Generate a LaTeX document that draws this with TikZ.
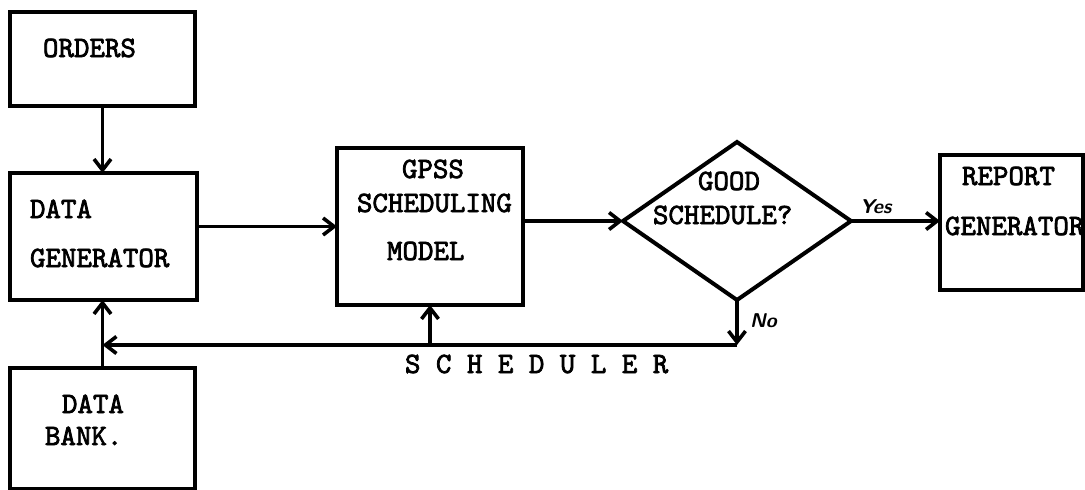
\documentclass[tikz,border=0pt]{standalone}
\usepackage{fontspec}
\setmonofont{lmmono10-regular}[Extension=.otf, FakeBold=2.5]
\usetikzlibrary{arrows.meta,shapes.geometric}

\begin{document}
\begin{tikzpicture}[x=1pt,y=-1pt,
  every node/.style={inner sep=0pt, outer sep=0pt},
  box/.style={draw, line width=4pt, rectangle},
  decision/.style={draw, line width=4pt, diamond},
  lbl/.style={anchor=base west, font=\fontsize{29.5}{29.5}\selectfont\ttfamily},
  hand/.style={anchor=base west, font=\fontsize{20}{20}\selectfont\sffamily\bfseries\itshape},
  flow/.style={line width=3.6pt, -{Straight Barb[length=11pt,width=17pt]}}]
\useasboundingbox (0,0) rectangle (1085,490);

% blocks
\node[box, minimum width=185pt, minimum height=94pt]  (orders)   at (102.5,59)  {};
\node[box, minimum width=187pt, minimum height=127pt] (datagen)  at (103.5,236.5) {};
\node[box, minimum width=185pt, minimum height=121pt] (databank) at (102.5,428) {};
\node[box, minimum width=186pt, minimum height=157pt] (gpss)     at (430,226.5) {};
\node[decision, minimum width=228pt, minimum height=158pt] (good) at (737,221) {};
\node[box, minimum width=143pt, minimum height=135pt] (report)   at (1011.5,222.5) {};

% texts
\node[lbl] (tOrders) at (43,57)   {ORDERS};
\node[lbl] (tData)   at (30,218)  {DATA};
\node[lbl] (tGen)    at (30,267)  {GENERATOR};
\node[lbl] (tBank1)  at (62,413)  {DATA};
\node[lbl] (tBank2)  at (45,445)  {BANK.};
\node[lbl] (tGpss)   at (402,178) {GPSS};
\node[lbl] (tSched)  at (357,212) {SCHEDULING};
\node[lbl] (tModel)  at (387,260) {MODEL};
\node[lbl] (tGood)   at (698,190) {GOOD};
\node[lbl] (tGood2)  at (653,224) {SCHEDULE?};
\node[lbl] (tRep1)   at (962,185) {REPORT};
\node[lbl] (tRep2)   at (945,235) {GENERATOR};
\node[lbl] (tSchr)   at (405,373) {S C H E D U L E R};
\node[hand] (tYes) at (860,213) {Yes};
\node[hand] (tNo)  at (750,327) {No};

% connectors
\coordinate (nocorner) at (good.south |- 0,345);
\draw[flow] (orders.south) -- (orders.south |- datagen.north);
\draw[flow] (databank.north) -- (databank.north |- datagen.south);
\draw[flow] (datagen.east |- gpss.west) -- (gpss.west);
\draw[flow] (gpss.east |- good.west) -- (good.west);
\draw[flow] (good.east) -- (good.east -| report.west);
\draw[flow] (good.south) -- (nocorner);
\draw[flow] (nocorner) -- (databank.north |- nocorner);
\draw[flow] (gpss.south |- nocorner) -- (gpss.south);
\end{tikzpicture}
\end{document}
